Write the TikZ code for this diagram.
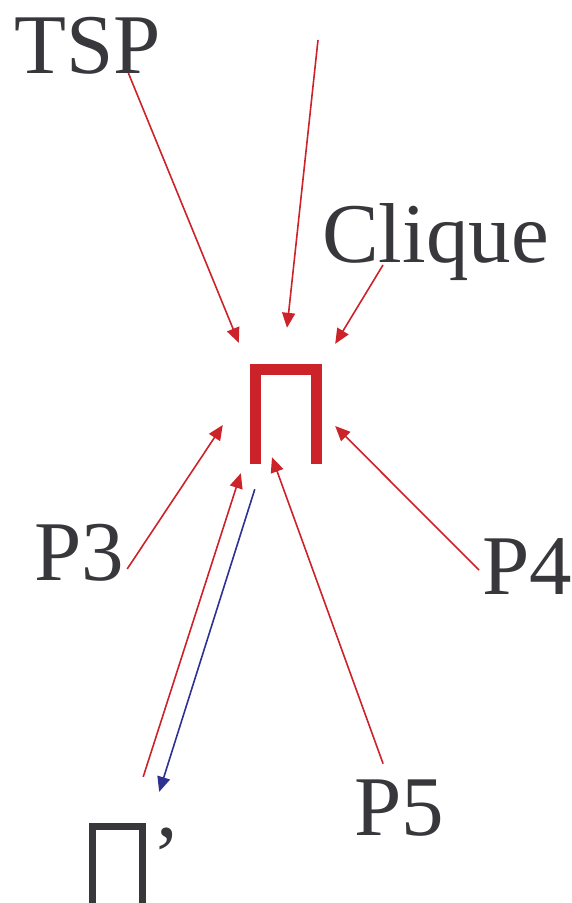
\documentclass[tikz,border=0pt]{standalone}
\usepackage{fontspec}
\setmainfont{Liberation Serif}
\usepackage{tikz}
\usetikzlibrary{positioning,calc,arrows.meta}
\definecolor{ink}    {HTML}{38383C}
\definecolor{redpen} {HTML}{CC2229}
\definecolor{bluepen}{HTML}{2E3192}
\tikzset{
  % --- nodes
  lbl/.style   = {font=\fontsize{85}{85}\selectfont, text=ink, inner sep=0pt, anchor=base west},
  pibox/.style = {rectangle, inner sep=0pt},
  % --- edges
  er/.style    = {-{Triangle[length=15pt,width=13pt]}, line width=1.6pt, draw=redpen},
  eb/.style    = {er, draw=bluepen},
}

\begin{document}
\begin{tikzpicture}[x=1pt,y=-1pt]
  \useasboundingbox (0,0) rectangle (571,903);
  % labels
  \node[lbl] (tsp)    at (14,73)   {TSP};
  \node[lbl] (clique) at (322,262) {Clique};
  \node[lbl] (p3)     at (34,580)  {P3};
  \node[lbl] (p4)     at (482,594) {P4};
  \node[lbl] (p5)     at (354,835) {P5};
  % the two Pi shapes
  \node[pibox, minimum width=61pt, minimum height=94.5pt] (pi) at (286,416.75) {};
  \draw[line width=11pt, redpen] (pi.south west) |- (pi.north) -| (pi.south east);
  \node[pibox, minimum width=49.5pt, minimum height=76.25pt] (pip) at (117.5,864.9) {};
  \draw[line width=7.5pt, ink] (pip.south west) |- (pip.north) -| (pip.south east);
  \node[lbl] (prime) at (152,884) {'};
  \coordinate (top) at (318,40);
  % edges
  \draw[er] ([xshift=-32.5pt]tsp.base east) -- ($(pi.north west)+(-16.5,-26.5)$);
  \draw[er] (top) -- ($(pi.north)+(1,-41.5)$);
  \draw[er] ($(clique.base west)+(61,3)$) -- ($(pi.north east)+(18.5,-25.5)$);
  \draw[er] ($(p3.base east)+(3,-11)$) -- ($(pi.west)+(-32.5,8.25)$);
  \draw[er] ($(p4.base west)+(-3,-24)$) -- ($(pi.east)+(18.5,9.25)$);
  \draw[er] ($(p5.north)+(-16,-15.5)$) -- ($(pi.south)+(-14,-7)$);
  \draw[er] ($(pip.north east)+(0.75,-49.75)$) -- ($(pi.south west)+(-14.5,9)$);
  \draw[eb] ($(pi.south west)+(-0.5,25)$) -- ($(pip.north east)+(16.75,-34.75)$);
\end{tikzpicture}
\end{document}
